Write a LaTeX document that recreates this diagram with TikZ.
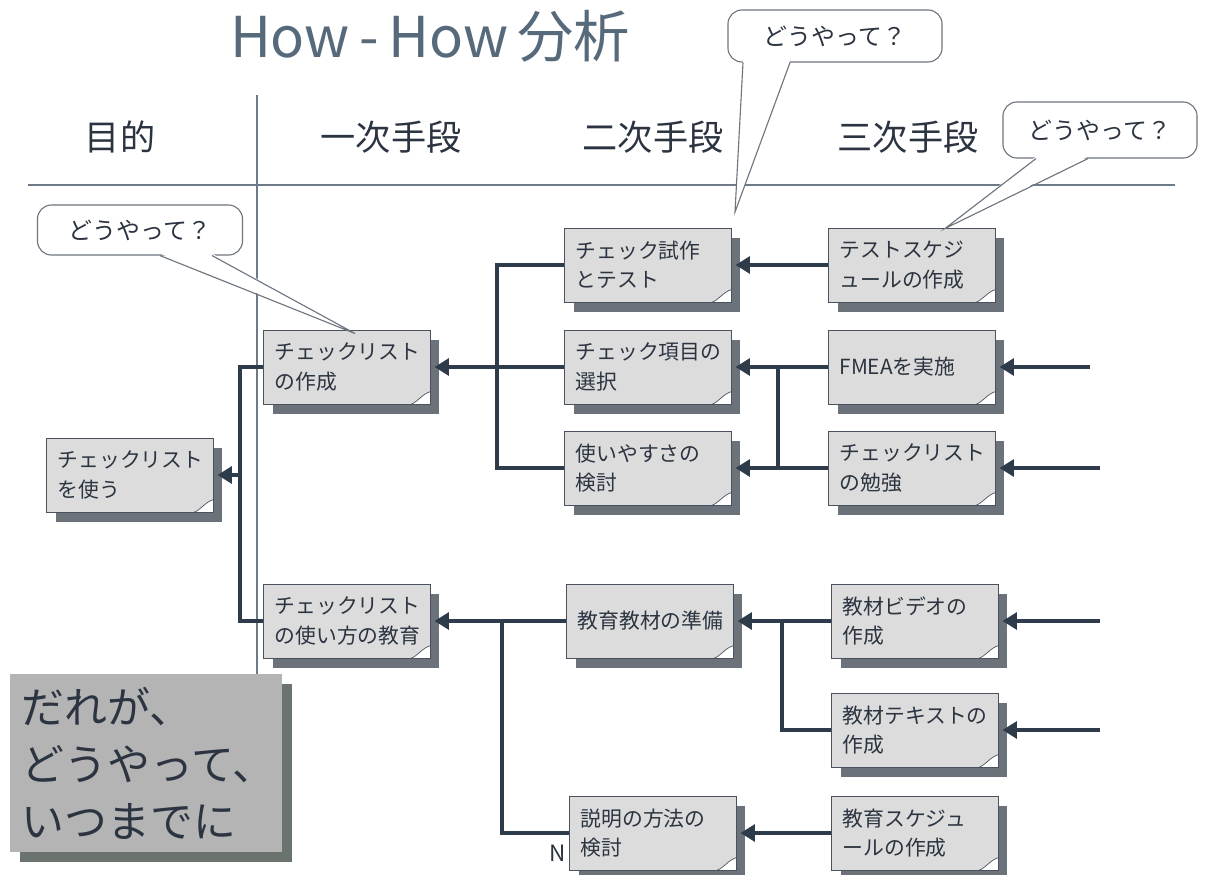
\documentclass[tikz,border=0pt]{standalone}
\usepackage{fontspec}
\setmainfont{Noto Sans CJK JP}
\usetikzlibrary{arrows.meta,shadows,calc}
\definecolor{ink}{HTML}{2B3440}
\definecolor{boxfill}{HTML}{DCDCDC}
\definecolor{boxline}{HTML}{4A5260}
\definecolor{shadowc}{HTML}{6C727A}
\definecolor{lineblue}{HTML}{2E3B4B}
\definecolor{titlec}{HTML}{566A7B}
\definecolor{rulec}{HTML}{6E7A88}
\definecolor{graybox}{HTML}{B4B4B4}
\definecolor{whoshadow}{HTML}{6A736E}
\newcommand\mkfold[1]{\draw[foldst] ($(#1.south east)+(-20,0)$) .. controls ($(#1.south east)+(-12,-3)$) and ($(#1.south east)+(-9,-10)$) .. ($(#1.south east)+(0,-13)$) -- (#1.south east) -- cycle;}
\begin{document}
\begin{tikzpicture}[x=0.025cm,y=-0.025cm,
 box/.style={draw=boxline, line width=0.7pt, fill=boxfill, minimum width=4.15cm, minimum height=1.85cm, text width=3.62cm, inner xsep=0.265cm, align=left, font=\fontsize{14.8}{21}\selectfont, text=ink, general shadow={fill=shadowc, shadow xshift=0.225cm, shadow yshift=-0.25cm}},
 conn/.style={draw=lineblue, line width=2.5pt},
 arr/.style={conn, -{Triangle[length=0.36cm,width=0.42cm]}},
 callbox/.style={draw=boxline!80, line width=0.8pt, fill=white, rounded corners=0.35cm, font=\fontsize{17}{20}\selectfont, text=ink},
 callline/.style={draw=boxline!80, line width=0.8pt},
 head/.style={font=\fontsize{25}{25}\selectfont, text=ink},
 foldst/.style={draw=boxline, line width=0.5pt, fill=white}
]
\useasboundingbox (0,0) rectangle (1209,874);
\fill[white] (0,0) rectangle (1209,874);

% title and headers
\node[font=\fontsize{40}{40}\selectfont, text=titlec] (title) at (430,36) {How\,-\,How\,分析};
\node[head] (h0) at (120,137) {目的};
\node[head] (h1) at (391,137) {一次手段};
\node[head] (h2) at (653,137) {二次手段};
\node[head] (h3) at (908,137) {三次手段};
\coordinate (rl) at (28,185);
\coordinate (rr) at (1175,185);
\draw[rulec, line width=0.9pt] (rl) -- (rr);
\coordinate (vt) at (257,95);
\coordinate (vb) at (257,678);
\draw[rulec, line width=0.9pt] (vt) -- (vb);

% boxes
\node[box] (use) at (130,475) {チェックリスト\\を使う};
\node[box] (make) at (347,367) {チェックリスト\\の作成};
\node[box] (edu) at (347,621) {チェックリスト\\の使い方の教育};
\node[box] (trial) at (648,265) {チェック試作\\とテスト};
\node[box] (item) at (648,367) {チェック項目の\\選択};
\node[box] (ease) at (648,468) {使いやすさの\\検討};
\node[box] (prep) at (650,621) {教育教材の準備};
\node[box] (explain) at (653,833) {説明の方法の\\検討};
\node[box] (sched) at (912,265) {テストスケジ\\ュールの作成};
\node[box] (fmea) at (912,367) {FMEAを実施};
\node[box] (study) at (912,468) {チェックリスト\\の勉強};
\node[box] (video) at (915,621) {教材ビデオの\\作成};
\node[box] (text) at (915,730) {教材テキストの\\作成};
\node[box] (esched) at (915,833) {教育スケジュ\\ールの作成};
\foreach \n in {use,make,edu,trial,item,ease,prep,explain,sched,fmea,study,video,text,esched}{\mkfold{\n}}

% connectors
\coordinate (b0) at (240,475);
\draw[conn] (make.west) -| (b0) |- (edu.west);
\draw[arr] (b0) -- ($(use.east)+(4,0)$);
\coordinate (b1) at (497,468);
\draw[conn] (trial.west) -| (b1) -- (ease.west);
\draw[arr] (item.west) -- ($(make.east)+(4,0)$);
\draw[arr] (sched.west) -- ($(trial.east)+(4,0)$);
\coordinate (b2) at (778,468);
\draw[arr] (fmea.west) -- ($(item.east)+(4,0)$);
\draw[arr] (study.west) -- ($(ease.east)+(4,0)$);
\draw[conn] (b2 |- fmea.west) -- (b2);
\coordinate (i1) at (1090,367);
\coordinate (i2) at (1100,468);
\coordinate (i3) at (1100,621);
\coordinate (i4) at (1100,730);
\draw[arr] (i1) -- ($(fmea.east)+(4,0)$);
\draw[arr] (i2) -- ($(study.east)+(4,0)$);
\draw[arr] (i3) -- ($(video.east)+(4,0)$);
\draw[arr] (i4) -- ($(text.east)+(4,0)$);
\draw[arr] (video.west) -- ($(prep.east)+(4,0)$);
\coordinate (b3) at (782,730);
\draw[conn] (b3 |- video.west) -- (b3) -- (text.west);
\draw[arr] (prep.west) -- ($(edu.east)+(4,0)$);
\coordinate (b4) at (502,833);
\draw[conn] (b4 |- prep.west) -- (b4) -- (explain.west);
\draw[arr] (esched.west) -- ($(explain.east)+(4,0)$);
\node[font=\fontsize{16}{16}\selectfont, text=ink] (nl) at (558,853) {N};

% who box
\node[fill=graybox, minimum width=6.8cm, minimum height=4.425cm, text width=6.2cm, inner xsep=0.3cm, align=left, font=\fontsize{30.5}{40.5}\selectfont, text=ink, general shadow={fill=whoshadow, shadow xshift=0.25cm, shadow yshift=-0.25cm}] (who) at (146,763) {だれが、\\どうやって、\\いつまでに};

% callouts
\node[callbox, minimum width=5.125cm, minimum height=1.25cm] (c1) at (140,230) {どうやって？};
\coordinate (t1) at ($(make.north)+(8,4)$);
\fill[white] ($(c1.south)+(20,-2)$) -- (t1) -- ($(c1.south)+(72,-2)$) -- cycle;
\draw[callline] ($(c1.south)+(20,0)$) -- (t1) -- ($(c1.south)+(72,0)$);

\node[callbox, minimum width=5.35cm, minimum height=1.3cm] (c2) at (835,36) {どうやって？};
\coordinate (t2) at (735,212);
\fill[white] ($(c2.south)+(-92,-2)$) -- (t2) -- ($(c2.south)+(-45,-2)$) -- cycle;
\draw[callline] ($(c2.south)+(-92,0)$) -- (t2) -- ($(c2.south)+(-45,0)$);

\node[callbox, minimum width=4.85cm, minimum height=1.4cm] (c3) at (1100,130) {どうやって？};
\coordinate (t3) at ($(sched.north)+(33,1)$);
\fill[white] ($(c3.south)+(-64,-2)$) -- (t3) -- ($(c3.south)+(-12,-2)$) -- cycle;
\draw[callline] ($(c3.south)+(-64,0)$) -- (t3) -- ($(c3.south)+(-12,0)$);
\end{tikzpicture}
\end{document}
